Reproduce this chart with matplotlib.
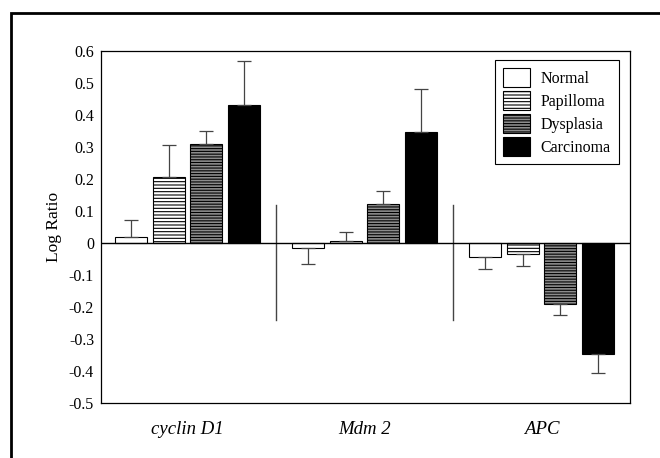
import numpy as np
import matplotlib
matplotlib.use("Agg")
import matplotlib.pyplot as plt
from matplotlib.patches import Rectangle

plt.rcParams['font.family'] = ['Liberation Serif', 'DejaVu Serif']
plt.rcParams['hatch.linewidth'] = 0.8

genes = ['cyclin D1', 'Mdm 2', 'APC']
stages = ['Normal', 'Papilloma', 'Dysplasia', 'Carcinoma']

# mean log ratio per stage, one entry per gene
normal = [0.018, -0.017, -0.043]
papilloma = [0.207, 0.007, -0.034]
dysplasia = [0.310, 0.122, -0.189]
carcinoma = [0.431, 0.347, -0.347]

# error (one-sided, pointing away from zero)
normal_err = [0.054, 0.049, 0.039]
papilloma_err = [0.099, 0.028, 0.038]
dysplasia_err = [0.041, 0.041, 0.036]
carcinoma_err = [0.138, 0.133, 0.060]

means = [normal, papilloma, dysplasia, carcinoma]
errs = [normal_err, papilloma_err, dysplasia_err, carcinoma_err]
faces = ['white', 'white', '#8c8c8c', 'black']
hatches = [None, '-----', '------', None]

fig = plt.figure(figsize=(6.6, 4.58), dpi=100)
ax = fig.add_axes([0.153, 0.12, 0.8015, 0.7686])

x = np.arange(len(genes))
pitch = 0.212
width = 0.18

for i in range(len(stages)):
    pos = x + (i - 1.5) * pitch
    vals = np.array(means[i])
    e = np.array(errs[i])
    lower = np.where(vals < 0, e, 0)
    upper = np.where(vals >= 0, e, 0)
    ax.bar(pos, vals, width, color=faces[i], edgecolor='black', linewidth=0.8,
           hatch=hatches[i], label=stages[i], zorder=2)
    ax.errorbar(pos, vals, yerr=[lower, upper], fmt='none', ecolor='#444444',
                elinewidth=0.9, capsize=5, capthick=0.9, zorder=3)

ax.axhline(0, color='black', linewidth=1, zorder=4)
for sep in [0.5, 1.5]:
    ax.plot([sep, sep], [-0.24, 0.12], color='#444444', linewidth=1)

ax.set_xlim(-0.489, 2.5)
ax.set_ylim(-0.5, 0.6)
ax.set_yticks(np.arange(-0.5, 0.61, 0.1))
ax.set_yticklabels(['-0.5', '-0.4', '-0.3', '-0.2', '-0.1', '0',
                    '0.1', '0.2', '0.3', '0.4', '0.5', '0.6'])
ax.set_xticks(x)
ax.set_xticklabels(genes, fontstyle='italic', fontsize=13.5)
ax.tick_params(axis='both', length=0)
ax.tick_params(axis='y', pad=5, labelsize=11.5)
ax.tick_params(axis='x', pad=13)
ax.set_ylabel('Log Ratio', fontsize=12.5, labelpad=5)
for s in ax.spines.values():
    s.set_linewidth(0.9)

leg = ax.legend(loc='upper right', bbox_to_anchor=(0.979, 0.974), fontsize=11.5,
                fancybox=False, edgecolor='black', framealpha=1,
                handlelength=1.65, handleheight=1.45, labelspacing=0.25,
                borderpad=0.5, handletextpad=0.7, borderaxespad=0)
leg.get_frame().set_linewidth(0.8)

fig.add_artist(Rectangle((0.0167, -0.2), 1.2, 0.9716 + 0.2, transform=fig.transFigure,
                         fill=False, edgecolor='black', linewidth=2))

fig.savefig('out.png', dpi=100)
